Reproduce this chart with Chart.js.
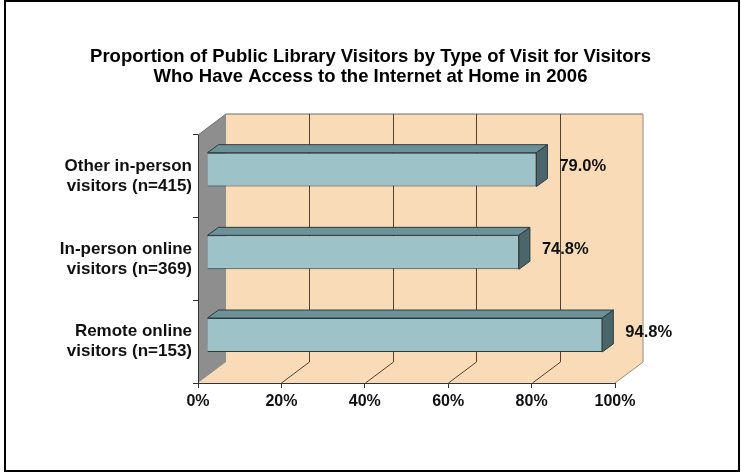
<!DOCTYPE html>
<html>
<head>
<meta charset="utf-8">
<script src="https://cdn.jsdelivr.net/npm/chart.js@4/dist/chart.umd.min.js"></script>
<style>
  html, body { margin: 0; padding: 0; background: #ffffff; }
  canvas { display: block; }
</style>
</head>
<body>
<canvas id="chart" width="741" height="474"></canvas>
<script>
// Visitor groups (top to bottom) and the share of each group, in percent
const categories = [
  ['Other in-person', 'visitors (n=415)'],
  ['In-person online', 'visitors (n=369)'],
  ['Remote online', 'visitors (n=153)']
];
const shares = [79.0, 74.8, 94.8];
const tickValues = [0, 20, 40, 60, 80, 100];
const titleLines = [
  'Proportion of Public Library Visitors by Type of Visit for Visitors',
  'Who Have Access to the Internet at Home in 2006'
];

const FONT = "'Liberation Sans', Arial, sans-serif";

// 3D look: depth of the walls/floor and of each bar
const WALL_DX = 28, WALL_DY = -21;
const BAR_SHIFT_X = 9, BAR_SHIFT_Y = -6.7;
const BAR_DX = 11, BAR_DY = -8;

const PEACH = '#f9dcb7';
const WALL_GRAY = '#8e8e8e';
const GRID = '#54402f';

const scene3d = {
  id: 'scene3d',
  beforeDraw(chart) {
    const { ctx, chartArea: a, scales: { x } } = chart;
    ctx.save();
    ctx.fillStyle = '#ffffff';
    ctx.fillRect(0, 0, chart.width, chart.height);
    // frame around the whole chart
    ctx.strokeStyle = '#000000';
    ctx.lineWidth = 2;
    ctx.strokeRect(5, 1, 734, 470);

    // back wall
    ctx.fillStyle = PEACH;
    ctx.fillRect(a.left + WALL_DX, a.top + WALL_DY, a.right - a.left, a.bottom - a.top);
    // floor
    ctx.beginPath();
    ctx.moveTo(a.left, a.bottom);
    ctx.lineTo(a.left + WALL_DX, a.bottom + WALL_DY);
    ctx.lineTo(a.right + WALL_DX, a.bottom + WALL_DY);
    ctx.lineTo(a.right, a.bottom);
    ctx.closePath();
    ctx.fill();
    // left wall
    ctx.fillStyle = WALL_GRAY;
    ctx.beginPath();
    ctx.moveTo(a.left, a.top);
    ctx.lineTo(a.left + WALL_DX, a.top + WALL_DY);
    ctx.lineTo(a.left + WALL_DX, a.bottom + WALL_DY);
    ctx.lineTo(a.left, a.bottom);
    ctx.closePath();
    ctx.fill();

    // wall outlines
    ctx.lineWidth = 1;
    ctx.strokeStyle = '#6d6d6d';
    ctx.beginPath();
    ctx.moveTo(a.left, a.top);
    ctx.lineTo(a.left + WALL_DX, a.top + WALL_DY);
    ctx.lineTo(a.right + WALL_DX, a.top + WALL_DY);
    ctx.stroke();
    ctx.strokeStyle = '#9a8a7a';
    ctx.beginPath();
    ctx.moveTo(a.right + WALL_DX, a.top + WALL_DY);
    ctx.lineTo(a.right + WALL_DX, a.bottom + WALL_DY);
    ctx.lineTo(a.right, a.bottom);
    ctx.stroke();

    // gridlines across floor and back wall
    ctx.strokeStyle = GRID;
    tickValues.forEach(v => {
      if (v === 0 || v === 100) return;
      const px = Math.round(x.getPixelForValue(v)) + 0.5;
      ctx.beginPath();
      ctx.moveTo(px, a.bottom);
      ctx.lineTo(px + WALL_DX, a.bottom + WALL_DY);
      ctx.lineTo(px + WALL_DX, a.top + WALL_DY);
      ctx.stroke();
    });
    ctx.restore();
  },
  beforeDatasetsDraw(chart) {
    chart.ctx.save();
    chart.ctx.translate(BAR_SHIFT_X, BAR_SHIFT_Y);
  },
  afterDatasetsDraw(chart) {
    const { ctx } = chart;
    ctx.restore();
    const meta = chart.getDatasetMeta(0);
    ctx.save();
    ctx.lineWidth = 1;
    ctx.strokeStyle = '#2d3a3e';
    ctx.lineJoin = 'round';
    meta.data.forEach((el, i) => {
      const p = el.getProps(['x', 'y', 'base', 'height'], true);
      const x0 = p.base + BAR_SHIFT_X;
      const x1 = p.x + BAR_SHIFT_X;
      const yT = p.y - p.height / 2 + BAR_SHIFT_Y;
      const yB = p.y + p.height / 2 + BAR_SHIFT_Y;
      // top face
      ctx.fillStyle = '#6c9299';
      ctx.beginPath();
      ctx.moveTo(x0, yT);
      ctx.lineTo(x0 + BAR_DX, yT + BAR_DY);
      ctx.lineTo(x1 + BAR_DX, yT + BAR_DY);
      ctx.lineTo(x1, yT);
      ctx.closePath();
      ctx.fill();
      ctx.stroke();
      // end face
      ctx.fillStyle = '#4b666b';
      ctx.beginPath();
      ctx.moveTo(x1, yT);
      ctx.lineTo(x1 + BAR_DX, yT + BAR_DY);
      ctx.lineTo(x1 + BAR_DX, yB + BAR_DY);
      ctx.lineTo(x1, yB);
      ctx.closePath();
      ctx.fill();
      ctx.stroke();
      // value label
      ctx.fillStyle = '#111111';
      ctx.font = 'bold 16.5px ' + FONT;
      ctx.textAlign = 'left';
      ctx.textBaseline = 'middle';
      ctx.fillText(shares[i].toFixed(1) + '%', x1 + BAR_DX + 12, p.y + BAR_SHIFT_Y - 3);
    });
    ctx.restore();
  }
};

new Chart(document.getElementById('chart'), {
  type: 'bar',
  data: {
    labels: categories,
    datasets: [{
      data: shares,
      backgroundColor: '#9dc3c9',
      borderColor: '#2d3a3e',
      borderWidth: 1,
      categoryPercentage: 1,
      barPercentage: 0.41
    }]
  },
  options: {
    indexAxis: 'y',
    responsive: false,
    animation: false,
    devicePixelRatio: 1,
    layout: { padding: { top: 0, left: 10, right: 10, bottom: 61 } },
    plugins: {
      legend: { display: false },
      tooltip: { enabled: false },
      title: {
        display: true,
        text: titleLines,
        color: '#000000',
        font: { family: FONT, size: 18.5, weight: 'bold', lineHeight: '20px' },
        padding: { top: 47, bottom: 48 }
      }
    },
    scales: {
      x: {
        type: 'linear',
        min: 0,
        max: 100,
        afterFit: s => { s.height = 30; },
        afterBuildTicks: s => { s.ticks = tickValues.map(v => ({ value: v })); },
        ticks: {
          callback: v => v + '%',
          color: '#111111',
          padding: 4,
          font: { family: FONT, size: 16, weight: 'bold', lineHeight: '20px' }
        },
        grid: { drawOnChartArea: false, drawTicks: true, tickLength: 5, color: '#333333' },
        border: { display: true, color: '#333333' }
      },
      y: {
        afterFit: s => { s.width = 188; },
        ticks: {
          color: '#111111',
          padding: 1,
          font: { family: FONT, size: 17, weight: 'bold', lineHeight: '20px' }
        },
        grid: { drawOnChartArea: false, drawTicks: true, tickLength: 5, offset: true, color: '#333333' },
        border: { display: true, color: '#333333' }
      },
      // empty right-hand gutter that holds the wall depth and value labels
      gutter: {
        type: 'linear',
        position: 'right',
        display: true,
        afterFit: s => { s.width = 116; },
        ticks: { display: false },
        grid: { display: false },
        border: { display: false }
      }
    }
  },
  plugins: [scene3d]
});
</script>
</body>
</html>
